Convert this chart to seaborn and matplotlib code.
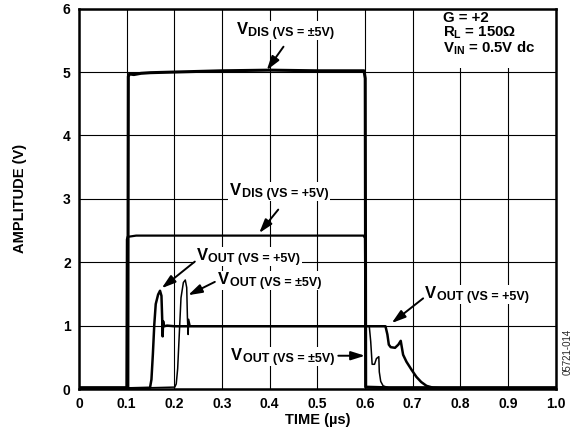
import matplotlib
matplotlib.use("Agg")
import matplotlib.pyplot as plt
from matplotlib.patches import Rectangle
from matplotlib.transforms import Bbox
import seaborn as sns

# ---------------- data ----------------
vdis_pm5_t = [0.0, 0.05, 0.1025, 0.1035, 0.106, 0.115, 0.13, 0.15, 0.2, 0.25, 0.3, 0.4, 0.5,
              0.598, 0.6005, 0.6015, 0.65, 1.0]
vdis_pm5_v = [0.02, 0.02, 0.02, 4.93, 4.97, 4.96, 4.98, 4.99, 5.0, 5.01, 5.02, 5.03, 5.02,
              5.02, 4.9, 0.03, 0.02, 0.02]

vdis_p5_t = [0.0, 0.0995, 0.1005, 0.102, 0.12, 0.3, 0.5, 0.597, 0.6, 0.6015, 0.65, 1.0]
vdis_p5_v = [0.02, 0.02, 2.36, 2.40, 2.42, 2.42, 2.42, 2.42, 2.38, 0.03, 0.02, 0.02]

vout_p5_t = [0.0, 0.10, 0.149, 0.152, 0.155, 0.158, 0.161, 0.166, 0.170, 0.173, 0.1745, 0.1755,
             0.1765, 0.178, 0.185, 0.2, 0.3, 0.4, 0.5, 0.6, 0.643, 0.647, 0.650, 0.654, 0.663,
             0.670, 0.675, 0.677, 0.680, 0.687, 0.698, 0.708, 0.718, 0.729, 0.743, 0.764, 0.8, 1.0]
vout_p5_v = [0.01, 0.01, 0.02, 0.15, 0.55, 1.02, 1.34, 1.49, 1.55, 1.47, 1.12, 0.83,
             1.07, 0.99, 1.0, 0.99, 0.99, 0.99, 0.99, 0.99, 0.99, 0.86, 0.70, 0.66, 0.65,
             0.70, 0.76, 0.67, 0.54, 0.43, 0.30, 0.19, 0.11, 0.05, 0.02, 0.01, 0.01, 0.01]

vout_pm5_t = [0.0, 0.15, 0.201, 0.204, 0.207, 0.211, 0.214, 0.219, 0.223, 0.226, 0.2275, 0.229,
              0.230, 0.233, 0.24, 0.3, 0.4, 0.5, 0.6, 0.609, 0.612, 0.615, 0.620, 0.624, 0.629,
              0.630, 0.633, 0.638, 0.649, 0.673, 0.7, 1.0]
vout_pm5_v = [0.02, 0.02, 0.03, 0.08, 0.32, 0.96, 1.44, 1.68, 1.72, 1.60, 1.12, 0.86,
              1.10, 1.0, 0.99, 0.99, 0.99, 0.99, 0.99, 0.99, 0.75, 0.39, 0.39, 0.48, 0.51,
              0.27, 0.12, 0.05, 0.02, 0.01, 0.01, 0.01]

x_ticks = [0, 0.1, 0.2, 0.3, 0.4, 0.5, 0.6, 0.7, 0.8, 0.9, 1.0]
x_tick_labels = ["0", "0.1", "0.2", "0.3", "0.4", "0.5", "0.6", "0.7", "0.8", "0.9", "1.0"]
y_ticks = [0, 1, 2, 3, 4, 5, 6]
y_tick_labels = ["0", "1", "2", "3", "4", "5", "6"]

label_main = ["V", "V", "V", "V", "V", "V"]
label_sub = ["DIS (VS = ±5V)", "DIS (VS = +5V)", "OUT (VS = +5V)",
             "OUT (VS = ±5V)", "OUT (VS = +5V)", "OUT (VS = ±5V)"]
label_pos = [(0.331, 5.60), (0.317, 3.06), (0.247, 2.03), (0.292, 1.66), (0.726, 1.44), (0.319, 0.46)]
arrow_tail = [(0.429, 5.40), (0.418, 2.83), (0.243, 2.01), (0.285, 1.69), (0.722, 1.43), (0.544, 0.525)]
arrow_tip = [(0.394, 5.03), (0.378, 2.46), (0.1735, 1.59), (0.229, 1.48), (0.656, 1.04), (0.600, 0.525)]

cond_lines = ["G = +2", r"R$_\mathbf{L}$ = 150Ω", r"V$_\mathbf{IN}$ = 0.5V dc"]

# ---------------- style ----------------
sns.set_theme(style="white")
plt.rcParams["font.family"] = ["Liberation Sans", "DejaVu Sans"]
plt.rcParams["font.weight"] = "bold"
plt.rcParams["mathtext.fontset"] = "custom"
plt.rcParams["mathtext.rm"] = "Liberation Sans:bold"
plt.rcParams["mathtext.bf"] = "Liberation Sans:bold"
plt.rcParams["mathtext.it"] = "Liberation Sans:bold"
plt.rcParams["mathtext.default"] = "bf"

fig = plt.figure(figsize=(5.77, 4.33), dpi=100)
ax = fig.add_axes([0.1369, 0.1016, 0.8261, 0.8784])

series = [(vdis_pm5_t, vdis_pm5_v, 2.2),
          (vdis_p5_t, vdis_p5_v, 1.6),
          (vout_p5_t, vout_p5_v, 1.8),
          (vout_pm5_t, vout_pm5_v, 1.1)]
for t, v, lw in series:
    sns.lineplot(x=t, y=v, ax=ax, color="black", lw=lw, estimator=None, sort=False,
                 legend=False, zorder=3)

ax.set_xlim(0, 1)
ax.set_ylim(0, 6)
ax.set_xticks(x_ticks)
ax.set_xticklabels(x_tick_labels)
ax.set_yticks(y_ticks)
ax.set_yticklabels(y_tick_labels)
ax.grid(True, color="black", lw=0.8)
ax.tick_params(length=0, pad=6, labelsize=10, colors="black")
for lab in ax.get_xticklabels() + ax.get_yticklabels():
    lab.set_fontweight("bold")
for s in ax.spines.values():
    s.set_color("black")
    s.set_linewidth(1.8)
    s.set_zorder(5)

ax.set_xlabel("TIME (µs)", fontsize=10.5, fontweight="bold", color="black")
ax.set_ylabel("AMPLITUDE (V)", fontsize=10.5, fontweight="bold", color="black")
ax.xaxis.set_label_coords(0.5, -0.063)
ax.yaxis.set_label_coords(-0.11, 0.5)


def sub_text(x, y, main, sub, size, sub_size):
    t_main = ax.text(x, y, main, fontsize=size, fontweight="bold", ha="left",
                     va="baseline", zorder=7, color="black")
    t_sub = ax.annotate(sub, xy=(1, 0), xycoords=t_main, xytext=(0.4, 0.6),
                        textcoords="offset points", fontsize=sub_size, fontweight="bold",
                        ha="left", va="baseline", zorder=7, color="black")
    return [t_main, t_sub]


label_parts = []
for m, s_, (lx, ly), tail, tip in zip(label_main, label_sub, label_pos, arrow_tail, arrow_tip):
    label_parts.append(sub_text(lx, ly, m, s_, 12, 9))
    ax.annotate("", xy=tip, xytext=tail, zorder=8,
                arrowprops=dict(arrowstyle="-|>,head_length=0.7,head_width=0.22",
                                color="black", lw=1.4, shrinkA=0, shrinkB=0))

# condition block (top right)
ax.text(0.764, 5.965, "\n".join(cond_lines), fontsize=10.8, fontweight="bold",
        ha="left", va="top", linespacing=0.95, zorder=7, color="black")
ax.add_patch(Rectangle((0.715, 0.845), 0.28, 0.153, transform=ax.transAxes,
                       facecolor="white", edgecolor="none", zorder=2))

# white backgrounds behind the curve labels (hide the grid)
fig.canvas.draw()
renderer = fig.canvas.get_renderer()
inv = ax.transData.inverted()
for parts in label_parts:
    bb = Bbox.union([p.get_window_extent(renderer) for p in parts])
    (x0, y0) = inv.transform((bb.x0 - 2, bb.y0 - 1))
    (x1, y1) = inv.transform((bb.x1 + 2, bb.y1 + 1))
    ax.add_patch(Rectangle((x0, y0), x1 - x0, y1 - y0, facecolor="white",
                           edgecolor="none", zorder=2))

fig.text(0.984, 0.187, "05721-014", rotation=90, fontsize=7, fontweight="normal",
         ha="center", va="center")

fig.savefig("out.png", dpi=100)
